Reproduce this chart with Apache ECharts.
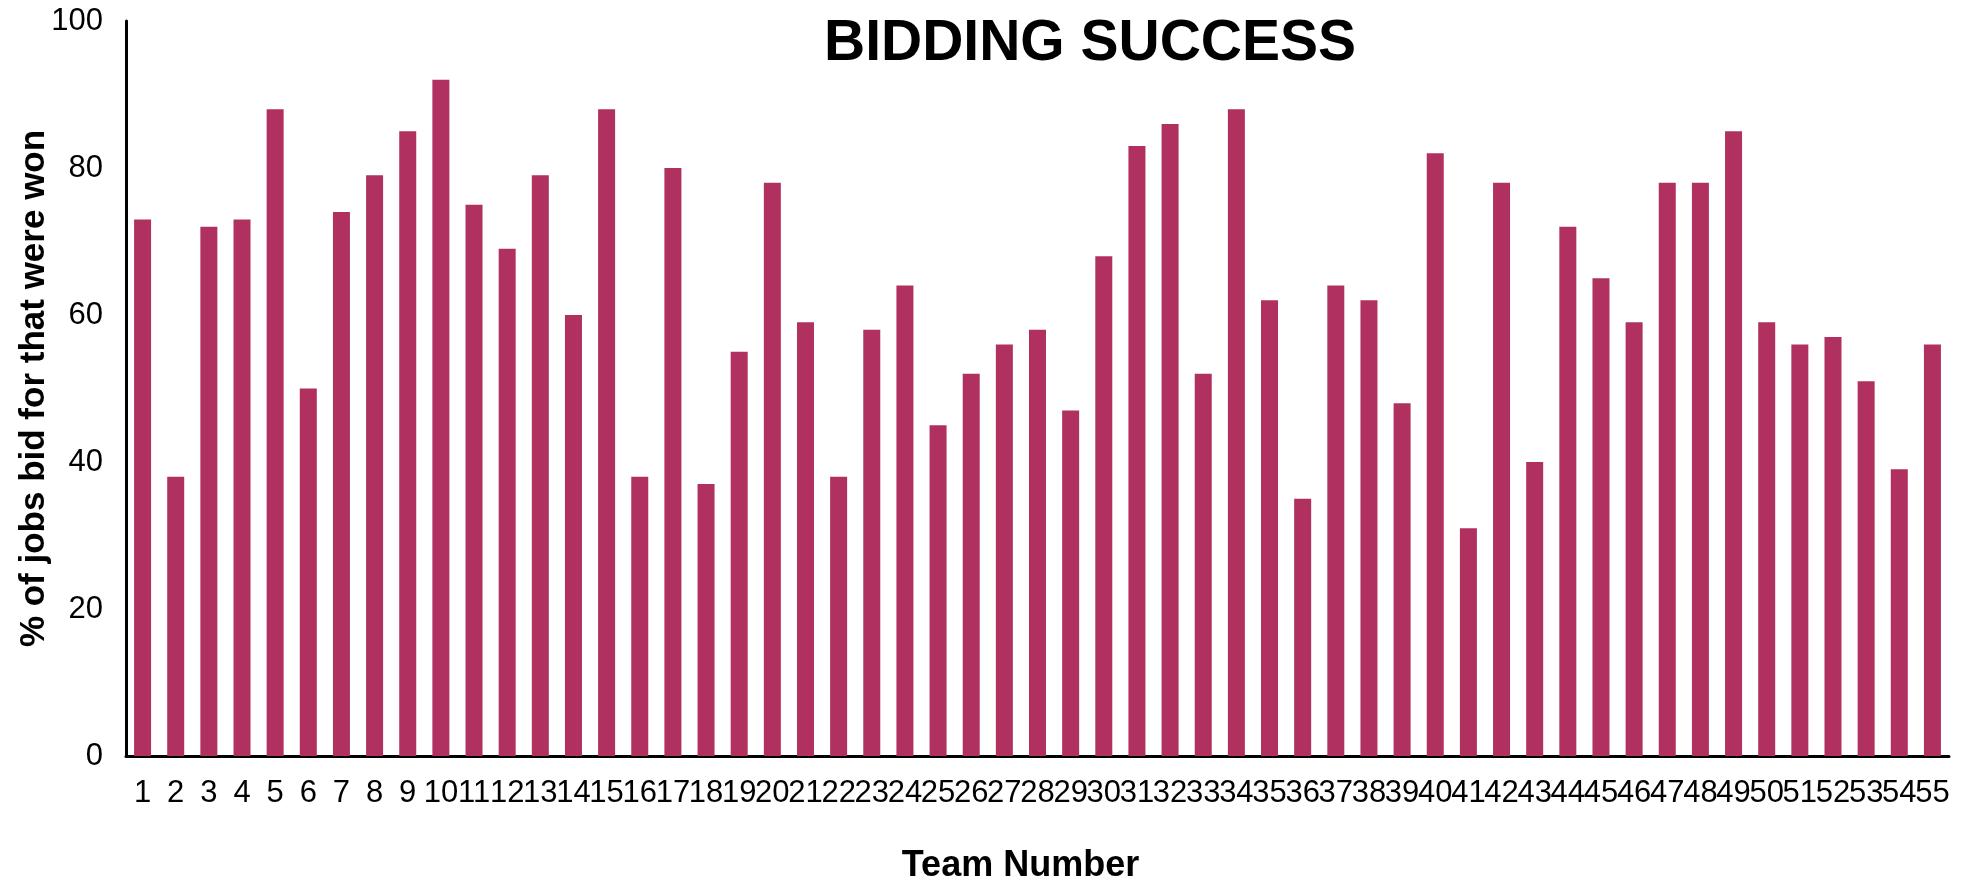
<!DOCTYPE html>
<html>
<head>
<meta charset="utf-8">
<title>Bidding Success</title>
<script src="https://cdn.jsdelivr.net/npm/echarts@6/dist/echarts.min.js"></script>
<style>
  html, body { margin: 0; padding: 0; background: #fff; }
  #myChart { width: 1965px; height: 880px; }
</style>
</head>
<body>
<!-- single series bar chart -->
<div id="myChart"></div>
<script>
// team numbers on the x axis
const teams = []
for (let i = 1; i <= 55; i++) teams.push(String(i))

// % of jobs bid for that were won
const winRate = [
  73, 38, 72, 73, 88, 50, 74, 79, 85, 92,
  75, 69, 79, 60, 88, 38, 80, 37, 55, 78,
  59, 38, 58, 64, 45, 52, 56, 58, 47, 68,
  83, 86, 52, 88, 62, 35, 64, 62, 48, 82,
  31, 78, 40, 72, 65, 59, 78, 78, 85, 59,
  56, 57, 51, 39, 56,
]

const yTicks = [0, 20, 40, 60, 80, 100]

const font = 'Liberation Sans, Arial, sans-serif'
const myChart = echarts.init(document.getElementById('myChart'))

const option = {
  animation: false,
  title: {
    text: 'BIDDING SUCCESS',
    left: 824,
    top: 16,
    padding: 0,
    textStyle: {
      fontFamily: font,
      fontSize: 57,
      fontWeight: 'bold',
      color: '#000',
    },
  },
  grid: {
    left: 126,
    right: 16,
    top: 21,
    bottom: 124,
    containLabel: false,
    outerBoundsMode: 'none',
  },
  /* x axis */
  xAxis: {
    type: 'category',
    data: teams,
    name: 'Team Number',
    nameLocation: 'middle',
    nameGap: 92,
    nameMoveOverlap: false,
    nameTextStyle: {
      fontFamily: font,
      fontSize: 36,
      fontWeight: 'bold',
      color: '#000',
      padding: [0, 34, 0, 0],
    },
    axisLine: {
      show: true,
      lineStyle: { color: '#000', width: 3 },
    },
    axisTick: { show: false },
    axisLabel: {
      interval: 0,
      margin: 22,
      fontFamily: font,
      fontSize: 31,
      color: '#000',
    },
  },
  /* y axis */
  yAxis: {
    type: 'value',
    min: yTicks[0],
    max: yTicks[yTicks.length - 1],
    interval: 20,
    name: '% of jobs bid for that were won',
    nameLocation: 'middle',
    nameGap: 74,
    nameMoveOverlap: false,
    nameTextStyle: {
      fontFamily: font,
      fontSize: 35,
      fontWeight: 'bold',
      color: '#000',
    },
    axisLine: {
      show: true,
      lineStyle: { color: '#000', width: 3 },
    },
    axisTick: { show: false },
    splitLine: { show: false },
    axisLabel: {
      margin: 23,
      fontFamily: font,
      fontSize: 31,
      color: '#000',
    },
  },
  series: [
    {
      type: 'bar',
      data: winRate,
      barWidth: 17,
      itemStyle: { color: '#B0305F' },
    },
  ],
}

myChart.setOption(option, true)
</script>
</body>
</html>
